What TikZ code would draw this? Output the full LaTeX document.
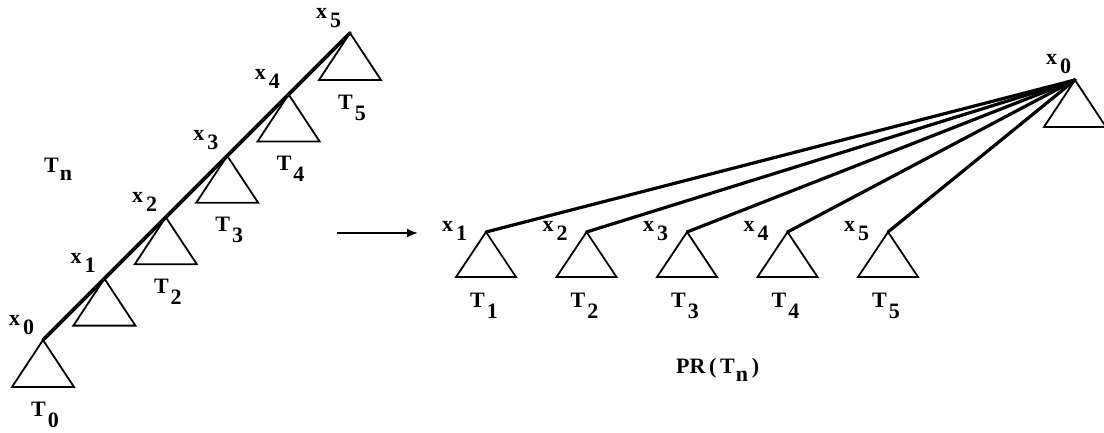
\documentclass[tikz,border=0pt]{standalone}
\usepackage{fontspec}
\setmainfont{Liberation Serif}
\usetikzlibrary{arrows.meta}

% labels with lowered indices
\newcommand{\xlab}[1]{x\kern3pt\raisebox{-9pt}{#1}}
\newcommand{\tlab}[1]{T\kern2pt\raisebox{-11pt}{#1}}

\begin{document}
\begin{tikzpicture}[
  x=1pt, y=-1pt,
  >={Latex[length=11pt, width=9pt]},
  every node/.style={font=\fontsize{22}{24}\selectfont\bfseries, inner sep=0pt},
  subtree/.style={line width=1.8pt, line join=miter},
  spine/.style={line width=3.8pt, line cap=round},
  fanline/.style={line width=3.2pt, line cap=round},
]

% Frame
\useasboundingbox (0,0) rectangle (1104,432);

% Left: the tree T_n
\foreach \i in {0,...,5} {
  \coordinate (l\i) at ({43+61.4*\i},{340-61.4*\i});
  \draw[subtree] (l\i) -- ++(-31,47) -- ++(62,0) -- cycle;
  \node[anchor=base west] (lx\i) at ([shift={(-34,-15)}]l\i) {\xlab{\i}};
}
\foreach \i in {0,2,3,4,5}
  \node[anchor=base west] (lt\i) at ([shift={(-12,76)}]l\i) {\tlab{\i}};

\draw[spine] (l0) -- (l5);

\node[anchor=base west] (tn) at (44,172) {T\kern1pt\raisebox{-8pt}{n}};

% Arrow
\coordinate (arrL) at (337,233);
\coordinate (arrR) at (418,233);
\draw[line width=1.8pt, ->] (arrL) -- (arrR);

% Right: the tree PR(T_n)
\coordinate (r0) at (1075,80);
\draw[subtree] (r0) -- ++(-31,47) -- ++(62,0) -- cycle;
\node[anchor=base west] (rx0) at ([shift={(-29,-16)}]r0) {\xlab{0}};

\foreach \i in {1,...,5} {
  \coordinate (r\i) at ({486+100.5*(\i-1)},232);
  \draw[subtree] (r\i) -- ++(-30,45) -- ++(60,0) -- cycle;
  \node[anchor=base west] (rx\i) at ([shift={(-44,-1)}]r\i) {\xlab{\i}};
  \node[anchor=base west] (rt\i) at ([shift={(-16,75)}]r\i) {\tlab{\i}};
  \draw[fanline] (r0) -- (r\i);
}

\node[anchor=base west] (pr) at (676,373) {PR\,(\,T\kern1pt\raisebox{-8pt}{n}\,)};

\end{tikzpicture}
\end{document}
